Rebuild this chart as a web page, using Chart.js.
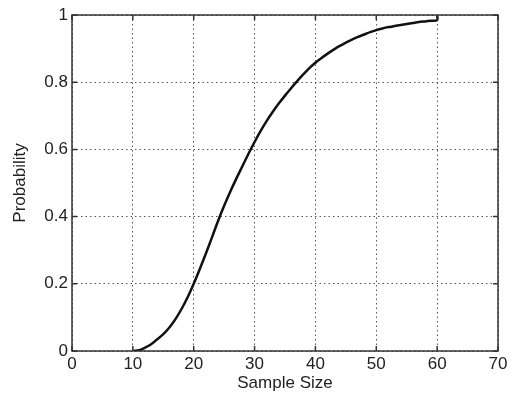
<!DOCTYPE html>
<html>
<head>
<meta charset="utf-8">
<script src="https://cdn.jsdelivr.net/npm/chart.js@4/dist/chart.umd.min.js"></script>
<style>
  html, body { margin: 0; padding: 0; background: #fff; }
  #wrap { width: 514px; height: 398px; position: relative; }
</style>
</head>
<body>
<div id="wrap"><canvas id="c"></canvas></div>
<script>
// sample sizes and probability
const sampleSize = [10, 11, 12, 13, 14, 15, 16, 17, 18, 19, 20, 21, 22, 23, 24, 25, 26, 27, 28, 29, 30,
  31, 32, 33, 34, 35, 36, 37, 38, 39, 40, 41, 42, 43, 44, 45, 46, 47, 48, 49, 50,
  51, 52, 53, 54, 55, 56, 57, 58, 59, 60, 60]
const probability = [0, 0.002, 0.01, 0.02, 0.035, 0.05, 0.07, 0.095, 0.125, 0.16, 0.2, 0.244, 0.29, 0.338, 0.387, 0.432, 0.474, 0.513, 0.55, 0.587, 0.622,
  0.655, 0.685, 0.712, 0.737, 0.76, 0.782, 0.803, 0.823, 0.842, 0.858, 0.872, 0.885, 0.897, 0.908, 0.918, 0.927, 0.935, 0.942, 0.949, 0.955,
  0.96, 0.964, 0.967, 0.97, 0.973, 0.976, 0.979, 0.981, 0.983, 0.985, 1]

const xTicks = [0, 10, 20, 30, 40, 50, 60, 70]
const yTicks = [0, 0.2, 0.4, 0.6, 0.8, 1]

const points = sampleSize.map((x, i) => ({ x, y: probability[i] }))

const FONT = "'Liberation Sans', Arial, sans-serif"
const INK = "#222"

// matlab-style box with inward tick marks
const boxPlugin = {
  id: "box",
  afterDraw(chart) {
    const { ctx, chartArea: a, scales } = chart
    ctx.save()
    ctx.strokeStyle = "#333"
    ctx.lineWidth = 1.5
    ctx.strokeRect(a.left, a.top, a.right - a.left, a.bottom - a.top)
    ctx.beginPath()
    xTicks.forEach(v => {
      const px = scales.x.getPixelForValue(v)
      ctx.moveTo(px, a.bottom); ctx.lineTo(px, a.bottom - 5)
      ctx.moveTo(px, a.top); ctx.lineTo(px, a.top + 5)
    })
    yTicks.forEach(v => {
      const py = scales.y.getPixelForValue(v)
      ctx.moveTo(a.left, py); ctx.lineTo(a.left + 5, py)
      ctx.moveTo(a.right, py); ctx.lineTo(a.right - 5, py)
    })
    ctx.stroke()
    ctx.restore()
  }
}

new Chart(document.getElementById("c"), {
  type: "line",
  data: {
    datasets: [{
      data: points,
      borderColor: "#111",
      borderWidth: 2.5,
      pointRadius: 0,
      tension: 0.3,
      fill: false
    }]
  },
  options: {
    responsive: true,
    maintainAspectRatio: false,
    animation: false,
    layout: { padding: { top: 15, right: 16, left: 0, bottom: 0 } },
    plugins: { legend: { display: false }, tooltip: { enabled: false } },
    scales: {
      x: {
        type: "linear",
        min: 0,
        max: 70,
        afterBuildTicks: (s) => { s.ticks = xTicks.map(v => ({ value: v })) },
        ticks: { color: INK, font: { family: FONT, size: 17 }, padding: 3, maxRotation: 0 },
        grid: { color: "#555", lineWidth: 1, drawTicks: false },
        border: { display: false, dash: [1.5, 3] },
        title: { display: true, text: "Sample Size", color: INK, font: { family: FONT, size: 17 }, padding: { top: 1 } },
        afterFit: (s) => { s.height = 47 }
      },
      y: {
        min: 0,
        max: 1,
        afterBuildTicks: (s) => { s.ticks = yTicks.map(v => ({ value: v })) },
        ticks: { color: INK, font: { family: FONT, size: 17 }, padding: 4, callback: (v) => `${v}` },
        grid: { color: "#555", lineWidth: 1, drawTicks: false },
        border: { display: false, dash: [1.5, 3] },
        title: { display: true, text: "Probability", color: INK, font: { family: FONT, size: 17 }, padding: { top: 10, bottom: 4 } },
        afterFit: (s) => { s.width = 72 }
      }
    }
  },
  plugins: [boxPlugin]
})
</script>
</body>
</html>
